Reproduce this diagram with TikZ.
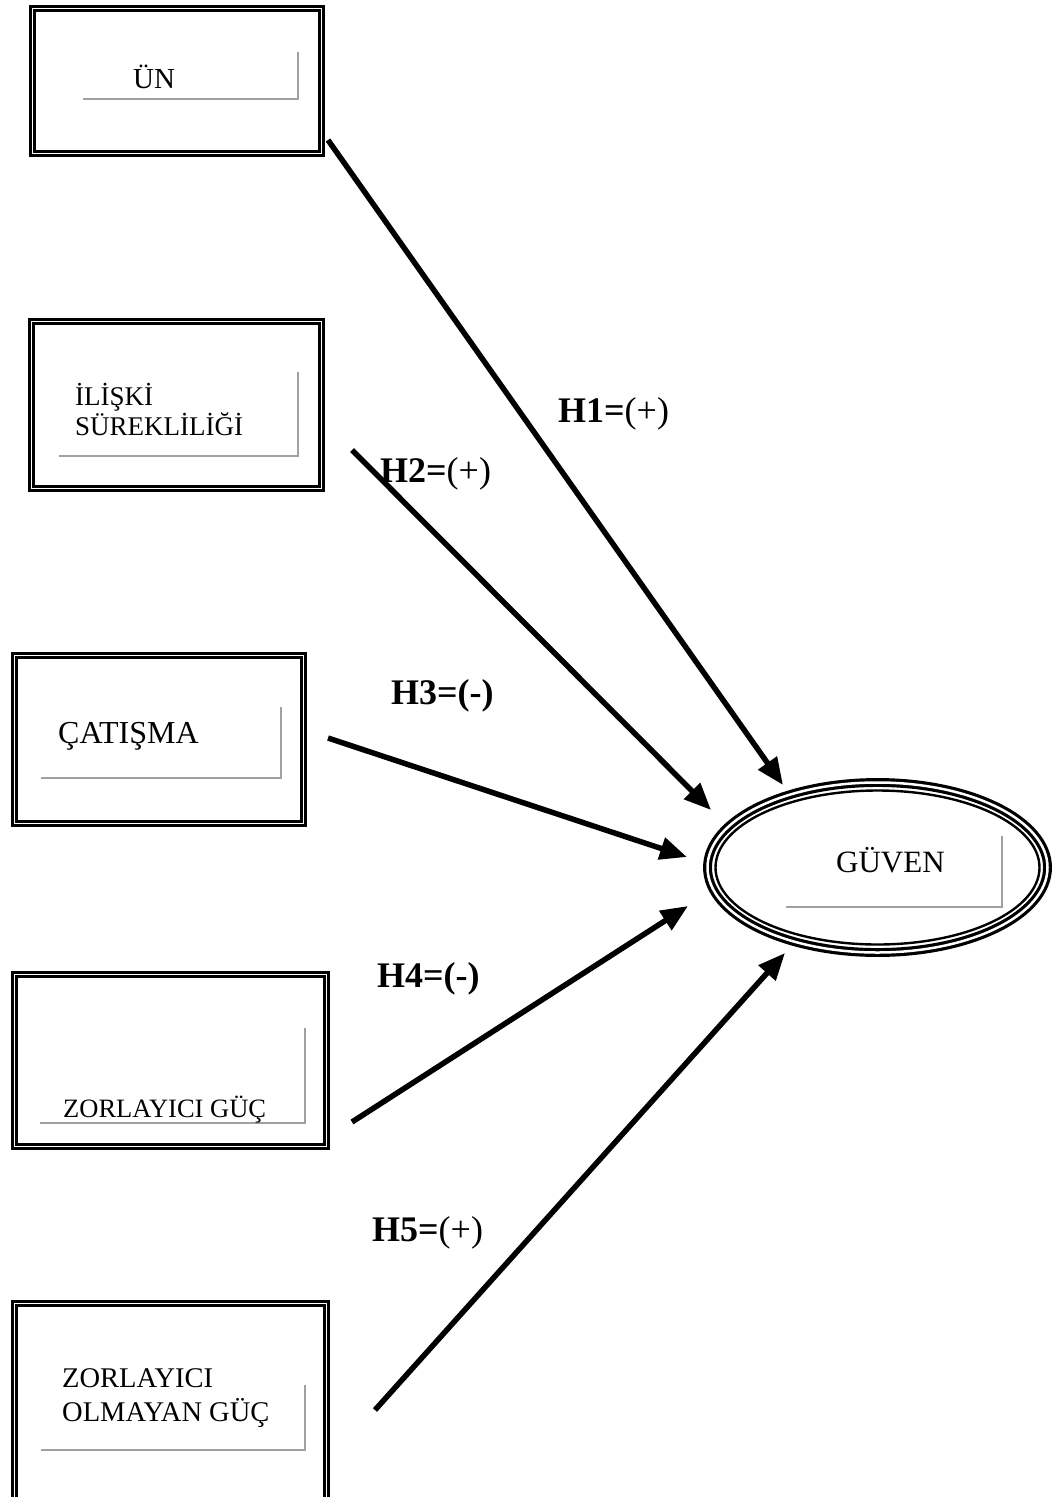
\documentclass[tikz,border=0pt]{standalone}
\usepackage{fontspec}
\setmainfont{Liberation Serif}
\usetikzlibrary{arrows.meta,shapes.geometric}
\definecolor{shadegray}{RGB}{160,160,160}
\tikzset{
  dbox/.style={draw=black, double=white, double distance=1.8pt, line width=2.8pt,
    rectangle, inner sep=0pt, outer sep=0pt},
  shadowline/.style={draw=shadegray, line width=2.5pt},
  boxtext/.style={anchor=base west, inner sep=0pt, font=\fontsize{29}{30}\selectfont, align=left},
  hlabel/.style={anchor=base west, inner sep=0pt, font=\fontsize{36}{38}\selectfont},
  hyparrow/.style={draw=black, line width=5.5pt, -{Triangle[length=27pt,width=22pt]}},
}
\begin{document}
\begin{tikzpicture}[x=1pt,y=-1pt]
\clip (0,0) rectangle (1055,1497);
\useasboundingbox (0,0) rectangle (1055,1497);

% boxes
\node[dbox, minimum width=289pt, minimum height=145pt] (un) at (177,81) {};
\node[dbox, minimum width=290pt, minimum height=167pt] (iliski) at (176.5,405) {};
\node[dbox, minimum width=289pt, minimum height=168pt] (catisma) at (159,739.5) {};
\node[dbox, minimum width=312pt, minimum height=172pt] (zorlayici) at (170.5,1060.5) {};
\node[dbox, minimum width=312pt, minimum height=213pt] (olmayan) at (170.5,1410) {};

% ellipse
\node[draw=black, double=white, double distance=2.5pt, line width=3.2pt, ellipse,
  inner sep=0pt, outer sep=0pt, minimum width=340pt, minimum height=170pt] (guven) at (877.5,867.5) {};
\draw[line width=2.4pt] (guven.center) ellipse (162 and 77);

% shadow lines
\draw[shadowline] (83,99) -- (298,99) -- (298,52);
\draw[shadowline] (59,456) -- (298,456) -- (298,372);
\draw[shadowline] (41,778) -- (281,778) -- (281,707);
\draw[shadowline] (40,1123) -- (305,1123) -- (305,1028);
\draw[shadowline] (41,1450) -- (305,1450) -- (305,1385);
\draw[shadowline] (786,907) -- (1002,907) -- (1002,836);

% texts
\node[boxtext] (unt) at (133,88) {ÜN};
\node[boxtext, font=\fontsize{27}{30}\selectfont] (ilt) at (75,435) {İLİŞKİ\\SÜREKLİLİĞİ};
\node[boxtext, font=\fontsize{32}{34}\selectfont] (cat) at (58,743) {ÇATIŞMA};
\node[boxtext, font=\fontsize{26.5}{30}\selectfont] (zgt) at (63,1117) {ZORLAYICI GÜÇ};
\node[boxtext, font=\fontsize{28.5}{34}\selectfont] (zot) at (62,1421) {ZORLAYICI\\OLMAYAN GÜÇ};
\node[boxtext, font=\fontsize{31}{32}\selectfont] (gvt) at (836,872) {GÜVEN};

% arrows
\coordinate (s1) at (328,140);  \coordinate (e1) at (783,785);
\coordinate (s2) at (352,450);  \coordinate (e2) at (711,810);
\coordinate (s3) at (328,738);  \coordinate (e3) at (687,857);
\coordinate (s4) at (352,1122); \coordinate (e4) at (688,906);
\coordinate (s5) at (375,1410); \coordinate (e5) at (785,953);
\draw[hyparrow] (s1) -- (e1);
\draw[hyparrow] (s2) -- (e2);
\draw[hyparrow] (s3) -- (e3);
\draw[hyparrow] (s4) -- (e4);
\draw[hyparrow] (s5) -- (e5);

% labels
\node[hlabel] (h1) at (558,422) {\textbf{H1=}(+)};
\node[hlabel] (h2) at (380,482) {\textbf{H2=}(+)};
\node[hlabel] (h3) at (391,704) {\textbf{H3=(-)}};
\node[hlabel] (h4) at (377,987) {\textbf{H4=(-)}};
\node[hlabel] (h5) at (372,1241) {\textbf{H5=}(+)};
\end{tikzpicture}
\end{document}
